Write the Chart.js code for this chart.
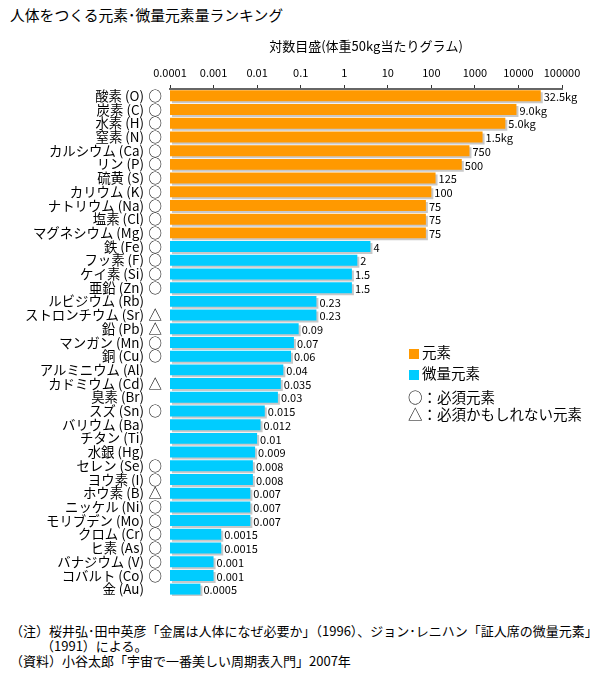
<!DOCTYPE html>
<html><head><meta charset="utf-8">
<script src="https://cdn.jsdelivr.net/npm/chart.js@4"></script>
<style>
body{margin:0;background:#fff;font-family:"Noto Sans CJK JP",sans-serif;color:#000;}
#wrap{position:relative;width:610px;height:680px;overflow:hidden;}
#title{position:absolute;left:10px;top:5px;font-size:14.8px;line-height:20px;}
#cv{position:absolute;left:0;top:30px;}
.lg{position:absolute;font-size:14.5px;line-height:16px;white-space:nowrap;}
.sw{display:inline-block;width:10px;height:10px;margin-right:3px;vertical-align:-1px;}
#notes{position:absolute;left:10px;top:623px;font-size:13px;line-height:15px;white-space:nowrap;}
</style></head>
<body><div id="wrap">
<div id="title">人体をつくる元素･微量元素量ランキング</div>
<canvas id="cv" width="610" height="582"></canvas>
<div class="lg" style="left:409px;top:344px;"><span class="sw" style="background:#FF9900"></span>元素</div>
<div class="lg" style="left:409px;top:365px;"><span class="sw" style="background:#00CCFF"></span>微量元素</div>
<div class="lg" style="left:408px;top:389px;">○：必須元素</div>
<div class="lg" style="left:408px;top:406px;">△：必須かもしれない元素</div>
<div id="notes">（注）桜井弘･田中英彦「金属は人体になぜ必要か」（1996）、ジョン･レニハン「証人席の微量元素」<br><span style="padding-left:31px">（1991）による。</span><br>（資料）小谷太郎「宇宙で一番美しい周期表入門」2007年</div>
</div>
<script>
const categories = ["酸素 (O)","炭素 (C)","水素 (H)","窒素 (N)","カルシウム (Ca)","リン (P)","硫黄 (S)","カリウム (K)","ナトリウム (Na)","塩素 (Cl)","マグネシウム (Mg)",
"鉄 (Fe)","フッ素 (F)","ケイ素 (Si)","亜鉛 (Zn)","ルビジウム (Rb)","ストロンチウム (Sr)","鉛 (Pb)","マンガン (Mn)","銅 (Cu)","アルミニウム (Al)","カドミウム (Cd)","臭素 (Br)","スズ (Sn)","バリウム (Ba)","チタン (Ti)","水銀 (Hg)","セレン (Se)","ヨウ素 (I)","ホウ素 (B)","ニッケル (Ni)","モリブデン (Mo)","クロム (Cr)","ヒ素 (As)","バナジウム (V)","コバルト (Co)","金 (Au)"];
const markers = ["○","○","○","○","○","○","○","○","○","○","○",
"○","○","○","○","","△","△","○","○","","△","","○","","","","○","○","△","○","○","○","○","○","○",""];
const grams = [32500,9000,5000,1500,750,500,125,100,75,75,75,
4,2,1.5,1.5,0.23,0.23,0.09,0.07,0.06,0.04,0.035,0.03,0.015,0.012,0.01,0.009,0.008,0.008,0.007,0.007,0.007,0.0015,0.0015,0.001,0.001,0.0005];
const valueLabels = ["32.5kg","9.0kg","5.0kg","1.5kg","750","500","125","100","75","75","75",
"4","2","1.5","1.5","0.23","0.23","0.09","0.07","0.06","0.04","0.035","0.03","0.015","0.012","0.01","0.009","0.008","0.008","0.007","0.007","0.007","0.0015","0.0015","0.001","0.001","0.0005"];
const groups = ["元素","元素","元素","元素","元素","元素","元素","元素","元素","元素","元素",
"微量元素","微量元素","微量元素","微量元素","微量元素","微量元素","微量元素","微量元素","微量元素","微量元素","微量元素","微量元素","微量元素","微量元素","微量元素","微量元素","微量元素","微量元素","微量元素","微量元素","微量元素","微量元素","微量元素","微量元素","微量元素","微量元素"];
const seriesNames = ["元素","微量元素"];
const seriesColors = ["#FF9900","#00CCFF"];
const tickValues = [0.0001,0.001,0.01,0.1,1,10,100,1000,10000,100000];
const tickLabels = ["0.0001","0.001","0.01","0.1","1","10","100","1000","10000","100000"];
const axisTitle = "対数目盛(体重50kg当たりグラム)";

const FONT = '"Noto Sans CJK JP", sans-serif';
const datasets = seriesNames.map((name, s) => ({
  label: name,
  data: grams.map((v, i) => groups[i] === name ? v : null),
  backgroundColor: seriesColors[s],
  borderWidth: 0,
  yAxisID: 'y',
  xAxisID: 'x',
  grouped: false,
  barPercentage: 0.8,
  categoryPercentage: 1.0
}));

const shadowPlugin = {
  id: 'shadow',
  beforeDatasetDraw(chart) {
    const ctx = chart.ctx; ctx.save();
    ctx.shadowColor = '#c8c8c8'; ctx.shadowOffsetX = 2; ctx.shadowOffsetY = 2; ctx.shadowBlur = 0;
  },
  afterDatasetDraw(chart) { chart.ctx.restore(); }
};
const valuePlugin = {
  id: 'values',
  afterDatasetsDraw(chart) {
    const ctx = chart.ctx; ctx.save();
    ctx.font = '11px ' + FONT; ctx.fillStyle = '#000';
    ctx.textAlign = 'left'; ctx.textBaseline = 'middle';
    chart.data.datasets.forEach((ds, di) => {
      chart.getDatasetMeta(di).data.forEach((el, i) => {
        if (ds.data[i] == null) return;
        ctx.fillText(valueLabels[i], el.x + 3, el.y + 1);
      });
    });
    ctx.restore();
  }
};

new Chart(document.getElementById('cv'), {
  type: 'bar',
  data: { labels: categories, datasets },
  options: {
    indexAxis: 'y',
    responsive: false,
    animation: false,
    devicePixelRatio: 1,
    layout: { padding: { left: 0, right: 48, top: 0, bottom: 5 } },
    plugins: { legend: { display: false }, tooltip: { enabled: false } },
    scales: {
      x: {
        type: 'logarithmic', position: 'top', min: 0.0001, max: 100000,
        afterBuildTicks(scale) { scale.ticks = tickValues.map(v => ({ value: v })); },
        afterFit(scale) { scale.height = 59; },
        ticks: {
          autoSkip: false, maxRotation: 0, padding: 6, color: '#000',
          font: { family: FONT, size: 11 },
          callback(v) { const k = tickValues.indexOf(v); return k >= 0 ? tickLabels[k] : ''; }
        },
        grid: { drawOnChartArea: false, drawTicks: true, tickLength: 4, color: '#333', lineWidth: 1 },
        border: { display: true, color: '#666', width: 2 },
        title: { display: true, text: axisTitle, color: '#000', font: { family: FONT, size: 13 }, padding: { top: 8, bottom: 0 } }
      },
      y: {
        type: 'category', position: 'left', weight: 1,
        afterFit(scale) { scale.width = 145; },
        ticks: { autoSkip: false, padding: 1, color: '#000', font: { family: FONT, size: 13.4 } },
        grid: { display: false, drawTicks: false },
        border: { display: false }
      },
      y2: {
        type: 'category', position: 'left', weight: 0, labels: markers, offset: true,
        afterFit(scale) { scale.width = 25; },
        ticks: { autoSkip: false, padding: 8, color: '#000', font: { family: FONT, size: 13.4 } },
        grid: { display: false, drawTicks: false },
        border: { display: false }
      }
    }
  },
  plugins: [shadowPlugin, valuePlugin]
});
</script>
</body></html>
